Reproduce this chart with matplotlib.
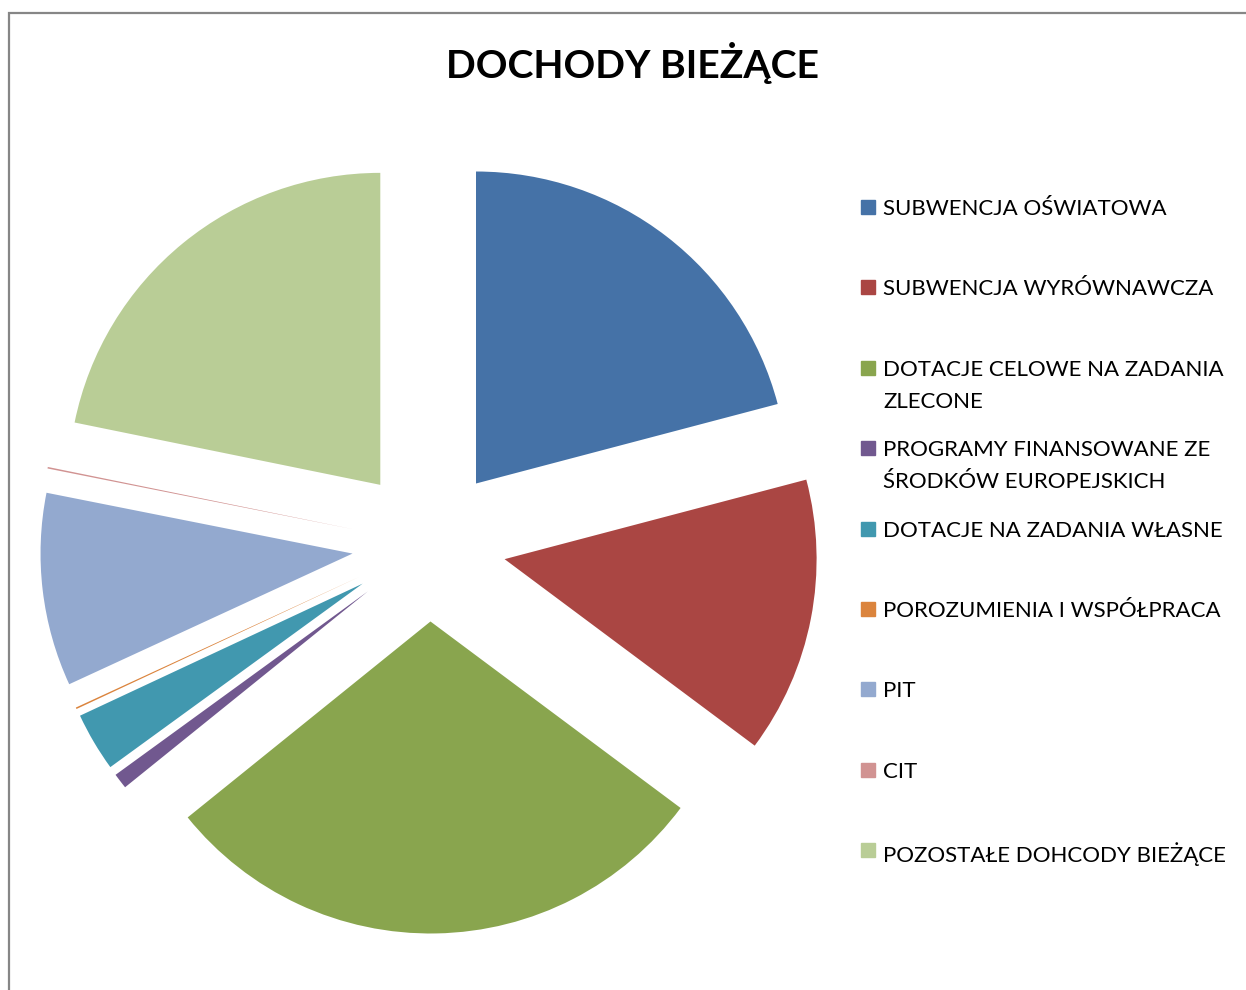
import matplotlib
matplotlib.use("Agg")
import matplotlib.pyplot as plt
from matplotlib.patches import Rectangle

# udział poszczególnych źródeł w dochodach bieżących (%)
categories = [
    "SUBWENCJA OŚWIATOWA",
    "SUBWENCJA WYRÓWNAWCZA",
    "DOTACJE CELOWE NA ZADANIA\nZLECONE",
    "PROGRAMY FINANSOWANE ZE\nŚRODKÓW EUROPEJSKICH",
    "DOTACJE NA ZADANIA WŁASNE",
    "POROZUMIENIA I WSPÓŁPRACA",
    "PIT",
    "CIT",
    "POZOSTAŁE DOHCODY BIEŻĄCE",
]
shares = [20.9, 14.3, 29.0, 0.8, 3.05, 0.08, 10.0, 0.08, 21.8]
colors = ["#4572A7", "#AA4643", "#89A54E", "#71588F", "#4198AF",
          "#DB843D", "#93A9CF", "#D19392", "#B9CD96"]

W, H = 1246, 990
fig = plt.figure(figsize=(W / 100, H / 100), dpi=100)
ax = fig.add_axes([0, 0, 1, 1])

ax.pie(shares, colors=colors, startangle=90, counterclock=False,
       radius=312, center=(429, H - 544.5), explode=[77] * len(shares),
       wedgeprops=dict(linewidth=0))
ax.set_xlim(0, W)
ax.set_ylim(0, H)
ax.set_aspect("equal")
ax.axis("off")

# ramka wykresu
ax.add_patch(Rectangle((9, -20), 1300, H - 12.5 + 20, fill=False,
                       edgecolor="#868686", linewidth=1.6, clip_on=False))

ax.text(632, H - 63, "DOCHODY BIEŻĄCE", ha="center", va="center",
        fontsize=28.3, fontweight="bold", family="Lato")

# legenda
for i, (lab, col) in enumerate(zip(categories, colors)):
    y = H - (207 + i * 80.4)
    ax.add_patch(Rectangle((861, y - 7), 14, 14, color=col))
    ax.text(883, y + 8, lab, ha="left", va="top", fontsize=16,
            family="Lato", linespacing=1.75)

fig.savefig("out.png", dpi=100)
